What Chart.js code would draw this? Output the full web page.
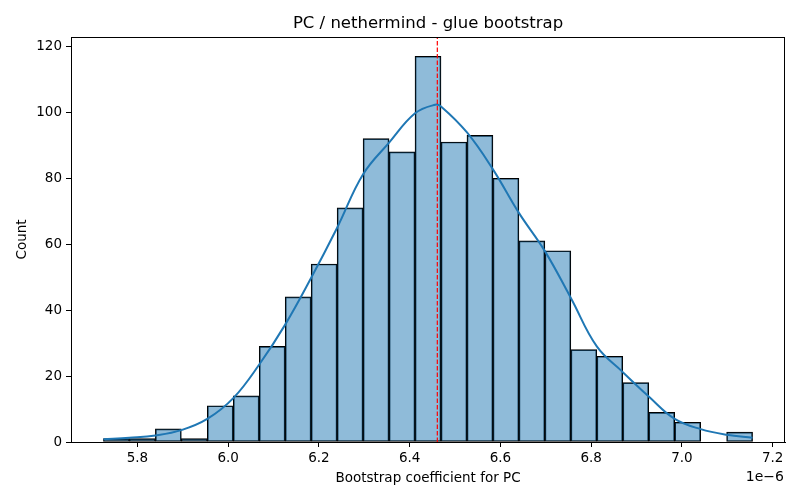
<!DOCTYPE html>
<html>
<head>
<meta charset="utf-8">
<script src="https://cdn.jsdelivr.net/npm/chart.js@4.4.1/dist/chart.umd.min.js"></script>
<style>
html,body{margin:0;padding:0;background:#fff;}
#wrap{width:800px;height:500px;position:relative;}
</style>
</head>
<body>
<div id="wrap"><canvas id="c" width="800" height="500"></canvas></div>
<script>
// Values in units of 1e-6
const binStart = 5.7251;
const binWidth = 0.05723;
const counts = [1, 1, 4, 1, 11, 14, 29, 44, 54, 71, 92, 88, 117, 91, 93, 80, 61, 58, 28, 26, 18, 9, 6, 0, 3];
const kdeX = [5.7251, 5.7823, 5.8396, 5.8968, 5.9540, 6.0113, 6.0685, 6.1257, 6.1830, 6.2402, 6.2974, 6.3547, 6.4119, 6.456, 6.4691, 6.5264, 6.5836, 6.6408, 6.6981, 6.7553, 6.8125, 6.8698, 6.9270, 6.9842, 7.0415, 7.0987, 7.1558];
const kdeY = [0.8, 1.3, 2.0, 3.6, 7.0, 13.3, 23.5, 35.6, 49.8, 65.0, 81.2, 90.8, 99.7, 102.3, 101.8, 93.9, 82.7, 69.5, 57.9, 43.7, 29.0, 21.2, 13.8, 7.0, 3.9, 2.2, 1.3];
const meanValue = 6.461;
const xTicks = [5.8, 6.0, 6.2, 6.4, 6.6, 6.8, 7.0, 7.2];
const yTicks = [0, 20, 40, 60, 80, 100, 120];
const xMin = 5.6536, xMax = 7.2273, yMax = 122.85;
const titleText = 'PC / nethermind - glue bootstrap';

const barData = counts.map((c, i) => ({x: binStart + binWidth * (i + 0.5), y: c}));
const kdeData = kdeX.map((x, i) => ({x: x, y: kdeY[i]}));
const meanData = [{x: meanValue, y: 0}, {x: meanValue, y: yMax}];

const FONT = "'DejaVu Sans', sans-serif";

const framePlugin = {
  id: 'frame',
  afterDraw(chart) {
    const {ctx, chartArea: a} = chart;
    ctx.save();
    ctx.strokeStyle = '#000';
    ctx.lineWidth = 1;
    ctx.strokeRect(Math.round(a.left) + 0.5, Math.round(a.top) + 0.5, Math.round(a.right - a.left) - 1, Math.round(a.bottom - a.top));
    ctx.fillStyle = '#000';
    ctx.font = "14px " + FONT;
    ctx.textAlign = 'right';
    ctx.textBaseline = 'middle';
    ctx.fillText('1e\u22126', a.right - 1, 477);
    ctx.font = "16.5px " + FONT;
    ctx.textAlign = 'center';
    ctx.fillText(titleText, (a.left + a.right) / 2, 23.5);
    ctx.restore();
  }
};

new Chart(document.getElementById('c'), {
  data: {
    datasets: [
      {
        type: 'line',
        data: meanData,
        borderColor: 'red',
        borderWidth: 1.2,
        borderDash: [4.5, 2],
        pointRadius: 0,
        order: 0
      },
      {
        type: 'line',
        data: kdeData,
        borderColor: '#1f77b4',
        borderWidth: 2,
        pointRadius: 0,
        tension: 0.4,
        fill: false,
        order: 1
      },
      {
        type: 'bar',
        data: barData,
        backgroundColor: 'rgba(31,119,180,0.5)',
        borderColor: '#000',
        borderWidth: 1,
        borderSkipped: false,
        barPercentage: 1,
        categoryPercentage: 1,
        order: 2
      }
    ]
  },
  options: {
    responsive: false,
    animation: false,
    devicePixelRatio: 1,
    layout: {padding: {left: 0, right: 15, top: 37, bottom: 0}},
    plugins: {
      legend: {display: false},
      tooltip: {enabled: false},
      title: {display: false}
    },
    scales: {
      x: {
        type: 'linear',
        min: xMin,
        max: xMax,
        offset: false,
        afterBuildTicks: s => { s.ticks = xTicks.map(v => ({value: v})); },
        afterFit: s => { s.height = 58; },
        grid: {drawOnChartArea: false, offset: false, tickLength: 5, color: '#000', tickColor: '#000'},
        border: {display: true, color: '#000', width: 1},
        ticks: {
          color: '#000',
          font: {family: FONT, size: 13.5},
          padding: 3,
          maxRotation: 0,
          autoSkip: false,
          callback: v => v.toFixed(1)
        },
        title: {
          display: true,
          text: 'Bootstrap coefficient for PC',
          color: '#000',
          font: {family: FONT, size: 13.5},
          padding: {top: 0, bottom: 13}
        }
      },
      y: {
        type: 'linear',
        min: 0,
        max: yMax,
        afterBuildTicks: s => { s.ticks = yTicks.map(v => ({value: v})); },
        afterFit: s => { s.width = 71; },
        grid: {drawOnChartArea: false, tickLength: 5, color: '#000', tickColor: '#000'},
        border: {display: true, color: '#000', width: 1},
        ticks: {
          color: '#000',
          font: {family: FONT, size: 13.5},
          padding: 4,
          autoSkip: false,
          callback: v => String(v)
        },
        title: {
          display: true,
          text: 'Count',
          color: '#000',
          font: {family: FONT, size: 13.5},
          padding: {top: 14, bottom: 0}
        }
      }
    }
  },
  plugins: [framePlugin]
});
</script>
</body>
</html>
